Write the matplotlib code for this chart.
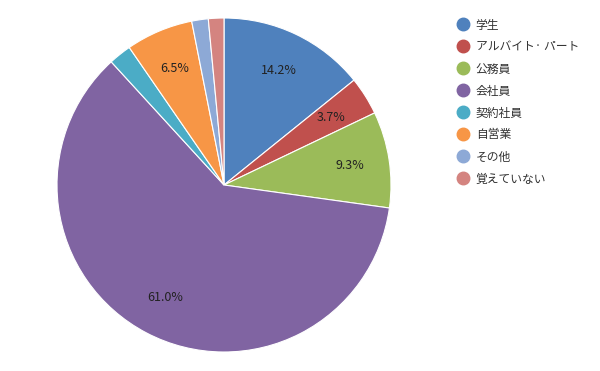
import matplotlib
matplotlib.use('Agg')
import matplotlib.pyplot as plt
from matplotlib.lines import Line2D
import numpy as np

plt.rcParams['font.family'] = ['Noto Sans CJK JP', 'DejaVu Sans']

categories = ['学生', 'アルバイト· パート', '公務員', '会社員', '契約社員', '自営業', 'その他', '覚えていない']
values = [14.2, 3.7, 9.3, 61.0, 2.2, 6.5, 1.6, 1.5]
shown = [True, True, True, True, False, True, False, False]
colors = ['#4F81BD', '#C0504D', '#9BBB59', '#8064A2', '#4BACC6', '#F79646', '#8DA9D6', '#D48480']

fig = plt.figure(figsize=(6, 3.71), dpi=100)
W, H = 600, 371
cx, cy, r = 224, 186, 167
ax = fig.add_axes([(cx - r) / W, (cy - r) / H, 2 * r / W, 2 * r / H])

wedges, texts = ax.pie(values, colors=colors, startangle=90, counterclock=False,
                       wedgeprops=dict(edgecolor='white', linewidth=0.8))
for w, v, s in zip(wedges, values, shown):
    if not s:
        continue
    ang = np.deg2rad((w.theta1 + w.theta2) / 2)
    ax.text(0.76 * np.cos(ang), 0.76 * np.sin(ang), f'{v:.1f}%', ha='center', va='center',
            fontsize=9, color='#222222')
ax.set_xlim(-1, 1)
ax.set_ylim(-1, 1)
ax.set_aspect('equal')
ax.axis('off')

handles = [Line2D([], [], marker='o', linestyle='', markersize=9, markerfacecolor=c,
                  markeredgecolor=c) for c in colors]
fig.legend(handles, categories, loc='upper left', bbox_to_anchor=(445 / W, 1 - 8 / H),
           frameon=False, fontsize=8.5, handletextpad=0.5, labelspacing=0.76,
           handlelength=1.2, labelcolor='#333333')

fig.savefig('out.png', dpi=100)
